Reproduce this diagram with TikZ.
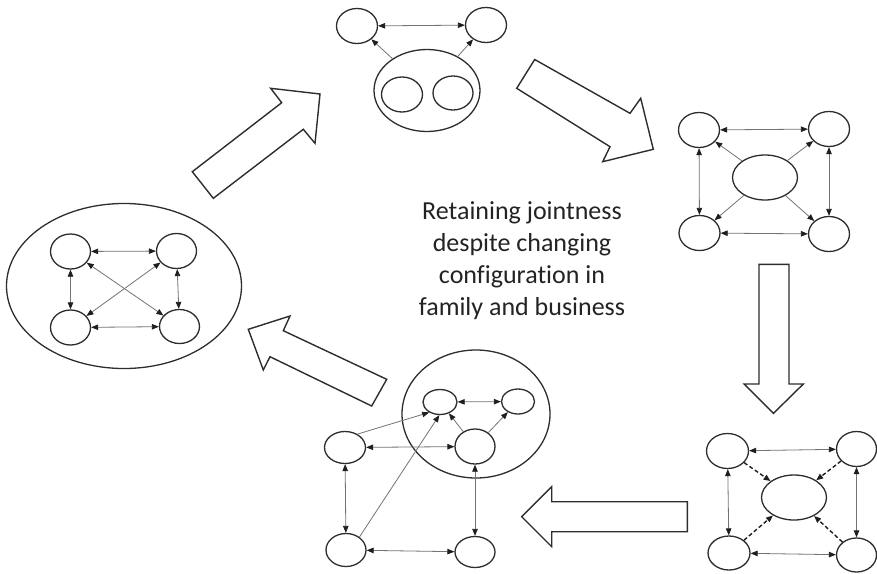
\documentclass[tikz,border=0pt]{standalone}
\usepackage{fontspec}
\setmainfont{Carlito}[Ligatures=NoCommon]
\usetikzlibrary{shapes.geometric, arrows.meta}
\definecolor{ringdark}{RGB}{45, 45, 45}
\definecolor{linkgray}{RGB}{115, 115, 115}
\definecolor{tipdark}{RGB}{30, 30, 30}
\definecolor{textdark}{RGB}{35, 35, 35}
\tikzset{
  oval/.style={draw=ringdark, ellipse, line width=1.3pt, inner sep=0pt, minimum width=41pt, minimum height=35pt},
  link/.style={-{Triangle[length=7pt, width=5.5pt, color=tipdark]}, draw=linkgray, line width=0.8pt},
  dlink/.style={{Triangle[length=7pt, width=5.5pt, color=tipdark]}-{Triangle[length=7pt, width=5.5pt, color=tipdark]}, draw=linkgray, line width=0.8pt},
  dashlink/.style={-{Triangle[length=7pt, width=5.5pt]}, draw=tipdark, line width=1.4pt, dash pattern=on 4pt off 2.5pt},
  blockarrow/.style={draw=ringdark, line width=1.4pt, line join=miter}
}

\begin{document}
\begin{tikzpicture}[x=1pt, y=-1pt]
  \useasboundingbox (0,0) rectangle (877,573);

  % Top: two members and the joint unit
  \node[oval] (tl) at (357,26) {};
  \node[oval] (tr) at (486,25) {};
  \node[oval, minimum width=106pt, minimum height=82pt] (tbig) at (427,90.5) {};
  \node[oval] (tin1) at (402,94.5) {};
  \node[oval, minimum width=40pt, minimum height=34pt] (tin2) at (453,93) {};

  \draw[dlink] (tl) -- (tr);
  \draw[link] (tbig) -- (tl);
  \draw[link] (tbig) -- (tr);

  % Right: four members around a centre
  \node[oval] (ra) at (699,130) {};
  \node[oval] (rb) at (829,129) {};
  \node[oval] (rc) at (699.5,233) {};
  \node[oval] (rd) at (829,234) {};
  \node[oval, minimum width=65pt, minimum height=45pt] (rmid) at (765,177.5) {};

  \draw[dlink] (ra) -- (rb);
  \draw[dlink] (ra) -- (rc);
  \draw[dlink] (rb) -- (rd);
  \draw[dlink] (rc) -- (rd);
  \draw[link] (rmid) -- (ra);
  \draw[link] (rmid) -- (rb);
  \draw[link] (rmid) -- (rc);
  \draw[link] (rmid) -- (rd);

  % Bottom right: dashed ties to the centre
  \node[oval, minimum width=42pt] (na) at (727.5,451) {};
  \node[oval, minimum width=40pt] (nb) at (856.5,449) {};
  \node[oval, minimum width=42pt, minimum height=34pt] (nc) at (729,553) {};
  \node[oval, minimum width=40pt, minimum height=34pt] (nd) at (856.5,555) {};
  \node[oval, minimum width=65pt, minimum height=45pt] (nmid) at (794,497.5) {};

  \draw[dlink] (na) -- (nb);
  \draw[dlink] (na) -- (nc);
  \draw[dlink] (nb) -- (nd);
  \draw[dlink] (nc) -- (nd);
  \draw[dashlink] (na) -- (nmid);
  \draw[dashlink] (nb) -- (nmid);
  \draw[dashlink] (nc) -- (nmid);
  \draw[dashlink] (nd) -- (nmid);

  % Bottom middle: partial subgroup
  \node[oval, minimum width=148pt, minimum height=128pt] (mring) at (476,414) {};
  \node[oval, minimum width=34pt, minimum height=25pt] (ma) at (440,402) {};
  \node[oval, minimum width=33pt, minimum height=25pt] (mb) at (518,401.5) {};
  \node[oval, minimum width=40pt] (mc) at (475,446.5) {};
  \node[oval, minimum height=32pt] (md) at (345,447.5) {};
  \node[oval, minimum width=40pt, minimum height=33pt] (me) at (346,550) {};
  \node[oval, minimum width=40pt, minimum height=31pt] (mf) at (475,552) {};

  \draw[dlink] (ma) -- (mb);
  \draw[link] (mc) -- (ma);
  \draw[link] (mc) -- (mb);
  \draw[link] (md.47) -- (ma.224);
  \draw[dlink] (md) -- (mc);
  \draw[dlink] (md) -- (me);
  \draw[link] (me.44) -- (ma.267);
  \draw[dlink] (mc) -- (mf);
  \draw[dlink] (me) -- (mf);

  % Left: everyone tied to everyone
  \node[oval, minimum width=235pt, minimum height=165pt] (lring) at (124,286) {};
  \node[oval, minimum width=40pt] (la) at (70.5,251.5) {};
  \node[oval, minimum width=40pt] (lb) at (176.5,251) {};
  \node[oval, minimum width=40pt] (lc) at (70.5,327.5) {};
  \node[oval, minimum width=40pt, minimum height=34pt] (ld) at (179.5,326.5) {};

  \draw[dlink] (la) -- (lb);
  \draw[dlink] (la) -- (lc);
  \draw[dlink] (lb) -- (ld);
  \draw[dlink] (lc) -- (ld);
  \draw[dlink] (la) -- (ld);
  \draw[dlink] (lb) -- (lc);

  % Block arrows of the cycle
  \draw[blockarrow] (192.3,171.7) -- (281.7,102.7) -- (270.7,88.3) -- (320,94) -- (315,143.3) -- (303.3,129.3) -- (213.3,198.3) -- cycle;
  \draw[blockarrow] (534.7,59.5) -- (630,113.3) -- (640.7,98.3) -- (653.3,149.3) -- (602.7,161.7) -- (610,146.7) -- (516.7,88.3) -- cycle;
  \draw[blockarrow] (759,264.3) -- (789,264.3) -- (789,384) -- (803.3,384) -- (773.5,413.3) -- (744,384) -- (759,384) -- cycle;
  \draw[blockarrow] (687.3,501.7) -- (551.7,501.7) -- (551.7,486.7) -- (521.7,516.7) -- (551.7,546.7) -- (551.7,531.7) -- (687.3,531.7) -- cycle;
  \draw[blockarrow] (386.7,379.3) -- (283.3,330.7) -- (290,316) -- (248.3,329.3) -- (263.3,370) -- (270,356.7) -- (371.7,406) -- cycle;

  % Caption in the middle
  \node[font=\fontsize{26}{32}\selectfont, align=center, text=textdark] (caption) at (522,261) {Retaining jointness\\despite changing\\configuration in\\family and business};
\end{tikzpicture}
\end{document}
